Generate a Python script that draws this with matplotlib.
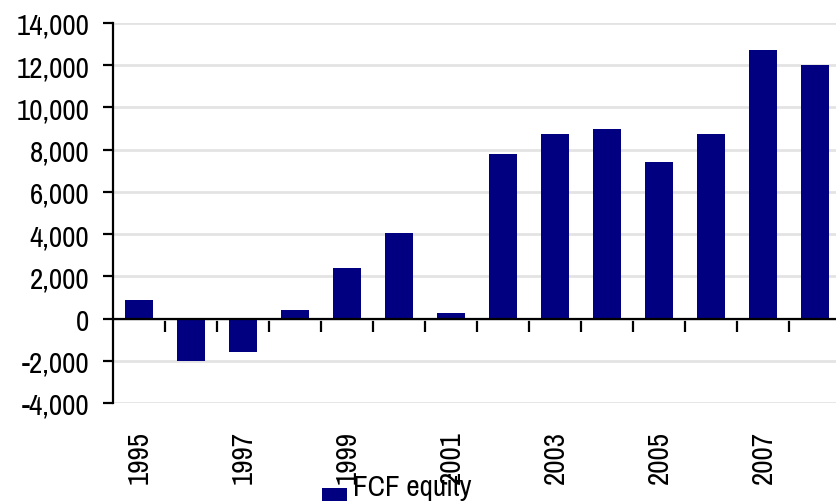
import matplotlib
matplotlib.use("Agg")
import matplotlib.pyplot as plt
from matplotlib.patches import Rectangle
from matplotlib.legend_handler import HandlerPatch

years = [1995, 1996, 1997, 1998, 1999, 2000, 2001,
         2002, 2003, 2004, 2005, 2006, 2007, 2008]
fcf_equity = [900, -2000, -1600, 400, 2400, 4050, 250,
              7800, 8750, 9000, 7400, 8750, 12700, 12000]
year_labels = [str(y) if y % 2 == 1 else "" for y in years]
y_ticks = list(range(-4000, 14001, 2000))

plt.rcParams['font.family'] = ['Archivo Narrow', 'Liberation Sans', 'DejaVu Sans']
plt.rcParams['font.size'] = 21

navy = "#000080"

fig = plt.figure(figsize=(8.37, 5.02), dpi=100)
ax = fig.add_axes([113 / 837, 98 / 502, 728 / 837, 380 / 502])

x = list(range(len(years)))
bars = ax.bar(x, fcf_equity, width=0.52, color=navy, zorder=3)

ax.set_xlim(-0.5, len(years) - 0.5)
ax.set_ylim(-4000, 14000)
ax.set_yticks(y_ticks)
ax.set_yticklabels([f"{v:,}" for v in y_ticks])
ax.yaxis.grid(True, color="#e3e3e3", linewidth=2, zorder=0)

# x axis sits on the zero line, category labels hang below the plot
ax.spines['bottom'].set_position(('data', 0))
ax.spines['bottom'].set_linewidth(1.6)
ax.spines['bottom'].set_zorder(4)
ax.spines['left'].set_linewidth(1.6)
ax.spines['top'].set_visible(False)
ax.spines['right'].set_visible(False)

ax.set_xticks(x)
ax.set_xticklabels(year_labels, rotation=90)
ax.set_xticks([i + 0.5 for i in x[:-1]], minor=True)
ax.tick_params(axis='x', which='major', length=0, pad=80)
ax.tick_params(axis='x', which='minor', length=9, width=1.6, direction='out')
ax.tick_params(axis='y', length=7, width=1.6, pad=10)


# legend swatch sits a bit below the text line
def low_square(legend, orig_handle, xdescent, ydescent, width, height, fontsize):
    return Rectangle((-xdescent, -ydescent - 0.7 * width), width, width)


fig.legend(handles=[bars.patches[0]], labels=["FCF equity"], loc='upper left',
           bbox_to_anchor=(322 / 837, 1 - 474 / 502),
           frameon=False, borderpad=0, borderaxespad=0, handlelength=0.85,
           handletextpad=0.2, handler_map={Rectangle: HandlerPatch(patch_func=low_square)})

fig.savefig("out.png", dpi=100)
